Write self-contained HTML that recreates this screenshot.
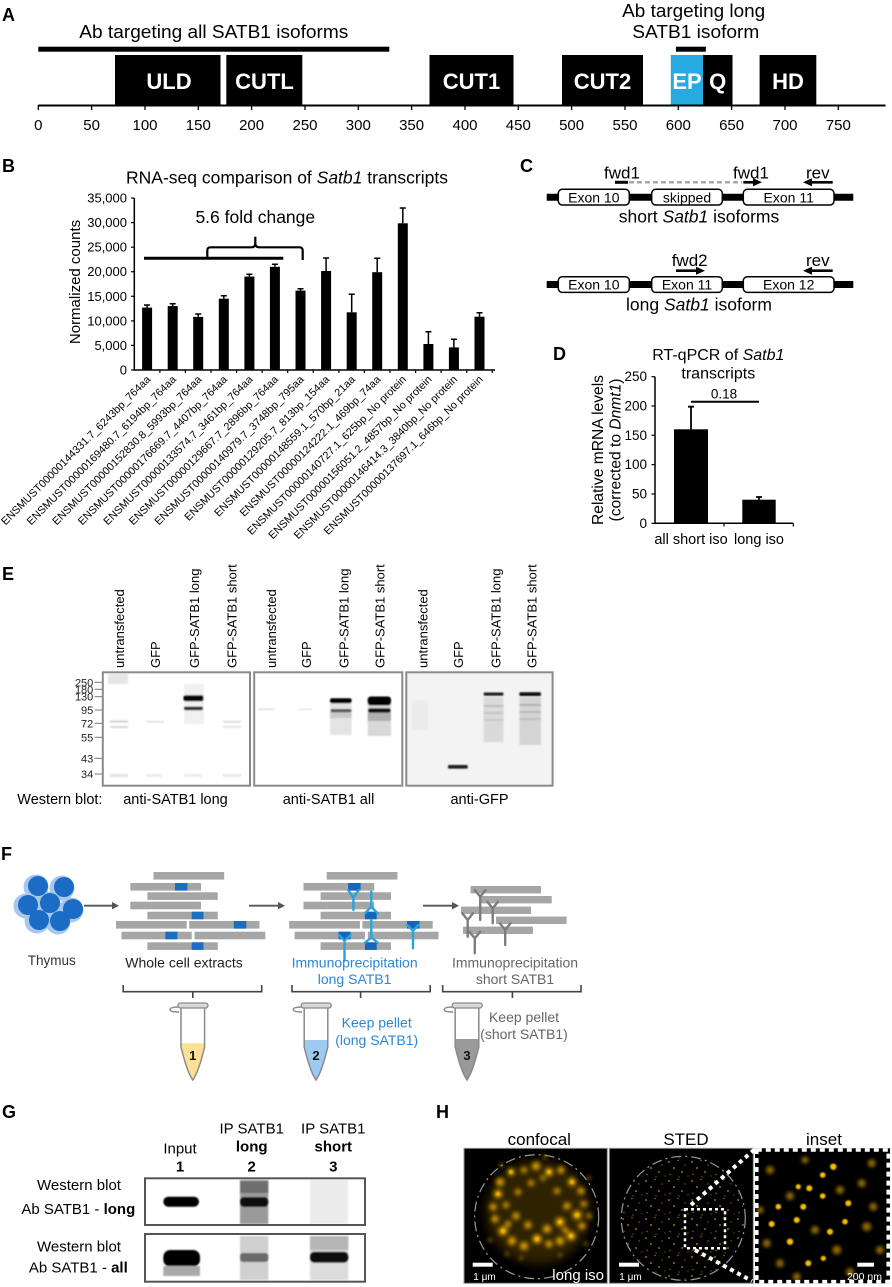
<!DOCTYPE html>
<html><head><meta charset="utf-8"><style>
html,body{margin:0;padding:0;background:#fff;}
svg{display:block;font-family:"Liberation Sans",Arial,sans-serif;}
</style></head><body>
<svg width="892" height="1287" viewBox="0 0 892 1287" xmlns="http://www.w3.org/2000/svg">
<defs>
<filter id="b1" x="-50%" y="-50%" width="200%" height="200%"><feGaussianBlur stdDeviation="0.9"/></filter>
<filter id="b2" x="-50%" y="-50%" width="200%" height="200%"><feGaussianBlur stdDeviation="1.8"/></filter>
<filter id="b3" x="-50%" y="-50%" width="200%" height="200%"><feGaussianBlur stdDeviation="2.4"/></filter>
<filter id="b4" x="-50%" y="-50%" width="200%" height="200%"><feGaussianBlur stdDeviation="5"/></filter>
<pattern id="sted" x="0" y="0" width="23" height="19" patternUnits="userSpaceOnUse">
<circle cx="2" cy="3" r="0.9" fill="#e8a800"/><circle cx="11" cy="1.5" r="0.7" fill="#c98f00"/>
<circle cx="7" cy="9" r="0.9" fill="#f0b800"/><circle cx="18" cy="6" r="0.7" fill="#a87800"/>
<circle cx="3" cy="15.5" r="0.7" fill="#b88400"/><circle cx="15" cy="13" r="0.9" fill="#e0a400"/>
<circle cx="21" cy="17" r="0.6" fill="#a87800"/><circle cx="12" cy="18" r="0.6" fill="#c08a00"/>
</pattern>
<clipPath id="cc1"><rect x="464" y="1148.3" width="143.3" height="135"/></clipPath>
<clipPath id="cc2"><circle cx="683.3" cy="1218.3" r="61"/></clipPath>
<clipPath id="cc3"><rect x="755" y="1148.3" width="135" height="135"/></clipPath>
<clipPath id="t1"><path d="M181,1008 L181,1047 Q187,1072 192.8,1080 Q198.6,1072 204.6,1047 L204.6,1008 Z"/></clipPath>
<clipPath id="t2"><path d="M304.2,1008 L304.2,1047 Q310.2,1072 316,1080 Q321.8,1072 327.8,1047 L327.8,1008 Z"/></clipPath>
<clipPath id="t3"><path d="M455.2,1008 L455.2,1047 Q461.2,1072 467,1080 Q472.8,1072 478.8,1047 L478.8,1008 Z"/></clipPath>
</defs>

<!-- ===== Panel A ===== -->
<text x="2" y="21" font-size="18" font-weight="bold">A</text>
<text x="693.7" y="17" font-size="18" text-anchor="middle" textLength="143" lengthAdjust="spacingAndGlyphs">Ab targeting long</text>
<text x="695.8" y="38" font-size="18" text-anchor="middle" textLength="127" lengthAdjust="spacingAndGlyphs">SATB1 isoform</text>
<text x="213.8" y="38" font-size="18" text-anchor="middle" textLength="269" lengthAdjust="spacingAndGlyphs">Ab targeting all SATB1 isoforms</text>
<rect x="38.3" y="46.7" width="351" height="5" fill="#000"/>
<rect x="675.9" y="46.7" width="30" height="5" fill="#000"/>
<rect x="115" y="55" width="105.5" height="50" fill="#000"/>
<rect x="226.3" y="55" width="76" height="50" fill="#000"/>
<rect x="429.5" y="55" width="84" height="50" fill="#000"/>
<rect x="562" y="55" width="81" height="50" fill="#000"/>
<rect x="670.8" y="55" width="32.2" height="50" fill="#27a9e1"/>
<rect x="703" y="55" width="29.5" height="50" fill="#000"/>
<rect x="759.6" y="55" width="56.7" height="50" fill="#000"/>
<g fill="#fff" font-size="22" font-weight="bold" text-anchor="middle">
<text x="169" y="89">ULD</text><text x="264.5" y="89">CUTL</text><text x="471.5" y="89">CUT1</text>
<text x="602.5" y="89">CUT2</text><text x="687" y="89">EP</text><text x="717.7" y="89">Q</text><text x="788" y="89">HD</text>
</g>
<line x1="38.3" y1="105.5" x2="885.5" y2="105.5" stroke="#000" stroke-width="2"/>
<g stroke="#000" stroke-width="1.3">
<line x1="38.3" y1="105" x2="38.3" y2="110"/><line x1="91.6" y1="105" x2="91.6" y2="110"/><line x1="145" y1="105" x2="145" y2="110"/><line x1="198.3" y1="105" x2="198.3" y2="110"/><line x1="251.6" y1="105" x2="251.6" y2="110"/><line x1="305" y1="105" x2="305" y2="110"/><line x1="358.3" y1="105" x2="358.3" y2="110"/><line x1="411.6" y1="105" x2="411.6" y2="110"/><line x1="465" y1="105" x2="465" y2="110"/><line x1="518.3" y1="105" x2="518.3" y2="110"/><line x1="571.6" y1="105" x2="571.6" y2="110"/><line x1="625" y1="105" x2="625" y2="110"/><line x1="678.3" y1="105" x2="678.3" y2="110"/><line x1="731.6" y1="105" x2="731.6" y2="110"/><line x1="785" y1="105" x2="785" y2="110"/><line x1="838.3" y1="105" x2="838.3" y2="110"/>
</g>
<g font-size="15" text-anchor="middle">
<text x="38.3" y="130">0</text><text x="91.6" y="130">50</text><text x="145" y="130">100</text><text x="198.3" y="130">150</text><text x="251.6" y="130">200</text><text x="305" y="130">250</text><text x="358.3" y="130">300</text><text x="411.6" y="130">350</text><text x="465" y="130">400</text><text x="518.3" y="130">450</text><text x="571.6" y="130">500</text><text x="625" y="130">550</text><text x="678.3" y="130">600</text><text x="731.6" y="130">650</text><text x="785" y="130">700</text><text x="838.3" y="130">750</text>
</g>

<!-- ===== Panel B ===== -->
<text x="2" y="172" font-size="18" font-weight="bold">B</text>
<text x="287" y="183.3" font-size="17.5" text-anchor="middle">RNA-seq comparison of <tspan font-style="italic">Satb1</tspan> transcripts</text>
<g font-size="13" text-anchor="end">
<text x="127" y="374.5">0</text><text x="127" y="349.9">5,000</text><text x="127" y="325.4">10,000</text><text x="127" y="300.8">15,000</text><text x="127" y="276.2">20,000</text><text x="127" y="251.7">25,000</text><text x="127" y="227.1">30,000</text><text x="127" y="202.5">35,000</text>
</g>
<g stroke="#000" stroke-width="1.2">
<line x1="131" y1="370" x2="134.3" y2="370"/><line x1="131" y1="345.4" x2="134.3" y2="345.4"/><line x1="131" y1="320.9" x2="134.3" y2="320.9"/><line x1="131" y1="296.3" x2="134.3" y2="296.3"/><line x1="131" y1="271.7" x2="134.3" y2="271.7"/><line x1="131" y1="247.2" x2="134.3" y2="247.2"/><line x1="131" y1="222.6" x2="134.3" y2="222.6"/><line x1="131" y1="198" x2="134.3" y2="198"/>
<line x1="159.9" y1="370" x2="159.9" y2="373"/><line x1="185.4" y1="370" x2="185.4" y2="373"/><line x1="211" y1="370" x2="211" y2="373"/><line x1="236.6" y1="370" x2="236.6" y2="373"/><line x1="262.1" y1="370" x2="262.1" y2="373"/><line x1="287.7" y1="370" x2="287.7" y2="373"/><line x1="313.3" y1="370" x2="313.3" y2="373"/><line x1="338.9" y1="370" x2="338.9" y2="373"/><line x1="364.4" y1="370" x2="364.4" y2="373"/><line x1="390" y1="370" x2="390" y2="373"/><line x1="415.6" y1="370" x2="415.6" y2="373"/><line x1="441.1" y1="370" x2="441.1" y2="373"/><line x1="466.7" y1="370" x2="466.7" y2="373"/><line x1="492.3" y1="370" x2="492.3" y2="373"/>
</g>
<line x1="134.3" y1="198" x2="134.3" y2="370.6" stroke="#000" stroke-width="1.5"/>
<line x1="133.5" y1="370" x2="495" y2="370" stroke="#000" stroke-width="1.5"/>
<text transform="translate(80,282) rotate(-90)" font-size="15" text-anchor="middle">Normalized counts</text>
<g fill="#000">
<rect x="142.1" y="307.6" width="10" height="62.4"/><rect x="167.7" y="306.1" width="10" height="63.9"/><rect x="193.2" y="316.9" width="10" height="53.1"/><rect x="218.8" y="298.7" width="10" height="71.3"/><rect x="244.4" y="276.6" width="10" height="93.4"/><rect x="269.9" y="266.8" width="10" height="103.2"/><rect x="295.5" y="290.6" width="10" height="79.4"/><rect x="321.1" y="271" width="10" height="99"/><rect x="346.7" y="312.3" width="10" height="57.7"/><rect x="372.2" y="272.2" width="10" height="97.8"/><rect x="397.8" y="223.3" width="10" height="146.7"/><rect x="423.4" y="344" width="10" height="26"/><rect x="448.9" y="347.4" width="10" height="22.6"/><rect x="474.5" y="316.7" width="10" height="53.3"/>
</g>
<g stroke="#000" stroke-width="1.5">
<path d="M147.1,307.6V305M144,305h6"/><path d="M172.7,306.1V303.7M169.7,303.7h6"/><path d="M198.2,316.9V314M195.2,314h6"/><path d="M223.8,298.7V295.7M220.8,295.7h6"/><path d="M249.4,276.6V274.3M246.4,274.3h6"/><path d="M274.9,266.8V264.3M271.9,264.3h6"/><path d="M300.5,290.6V288.7M297.5,288.7h6"/><path d="M326.1,271V258M323.1,258h6"/><path d="M351.7,312.3V294.3M348.7,294.3h6"/><path d="M377.2,272.2V258.3M374.2,258.3h6"/><path d="M402.8,223.3V208M399.8,208h6"/><path d="M428.4,344V331.7M425.4,331.7h6"/><path d="M453.9,347.4V339.3M450.9,339.3h6"/><path d="M479.5,316.7V312.7M476.5,312.7h6"/>
</g>
<line x1="144" y1="258.3" x2="283.3" y2="258.3" stroke="#000" stroke-width="3"/>
<path d="M207.3,258 L207.3,250.5 Q207.3,247.3 210.5,247.3 L251.5,247.3 Q255.3,247.3 255.3,243 L255.3,236.7 M255.3,243 Q255.3,247.3 259,247.3 L299.5,247.3 Q302.7,247.3 302.7,250.5 L302.7,260" fill="none" stroke="#000" stroke-width="2.2"/>
<text x="255.3" y="223" font-size="17.5" text-anchor="middle">5.6 fold change</text>
<g font-size="10.8" text-anchor="end">
<text transform="translate(151.1,380) rotate(-45)">ENSMUST00000144331.7_6243bp_764aa</text>
<text transform="translate(176.7,380) rotate(-45)">ENSMUST00000169480.7_6194bp_764aa</text>
<text transform="translate(202.2,380) rotate(-45)">ENSMUST00000152830.8_5993bp_764aa</text>
<text transform="translate(227.8,380) rotate(-45)">ENSMUST00000176669.7_4407bp_764aa</text>
<text transform="translate(253.4,380) rotate(-45)">ENSMUST00000133574.7_3461bp_764aa</text>
<text transform="translate(278.9,380) rotate(-45)">ENSMUST00000129667.7_2896bp_764aa</text>
<text transform="translate(304.5,380) rotate(-45)">ENSMUST00000140979.7_3748bp_795aa</text>
<text transform="translate(330.1,380) rotate(-45)">ENSMUST00000129205.7_813bp_154aa</text>
<text transform="translate(355.7,380) rotate(-45)">ENSMUST00000148559.1_570bp_21aa</text>
<text transform="translate(381.2,380) rotate(-45)">ENSMUST00000124222.1_469bp_74aa</text>
<text transform="translate(406.8,380) rotate(-45)">ENSMUST00000140727.1_625bp_No protein</text>
<text transform="translate(432.4,380) rotate(-45)">ENSMUST00000156051.2_4857bp_No protein</text>
<text transform="translate(457.9,380) rotate(-45)">ENSMUST00000146414.3_3840bp_No protein</text>
<text transform="translate(483.5,380) rotate(-45)">ENSMUST00000137697.1_646bp_No protein</text>
</g>

<!-- ===== Panel C ===== -->
<text x="520" y="172" font-size="18" font-weight="bold">C</text>
<line x1="546.7" y1="197.3" x2="853.3" y2="197.3" stroke="#000" stroke-width="7"/>
<line x1="546.7" y1="284.5" x2="853.3" y2="284.5" stroke="#000" stroke-width="7"/>
<g fill="#fff" stroke="#000" stroke-width="1.5">
<rect x="558.3" y="189.3" width="71" height="15.7" rx="4"/><rect x="651.7" y="189.3" width="70.6" height="15.7" rx="4"/><rect x="743.3" y="189.3" width="90.7" height="15.7" rx="4"/>
<rect x="558.3" y="276.7" width="71" height="15.7" rx="4"/><rect x="651.7" y="276.7" width="70.6" height="15.7" rx="4"/><rect x="743.3" y="276.7" width="90.7" height="15.7" rx="4"/>
</g>
<g font-size="14" text-anchor="middle">
<text x="593.8" y="202.3">Exon 10</text><text x="687" y="202.3">skipped</text><text x="788.7" y="202.3">Exon 11</text>
<text x="593.8" y="289.7">Exon 10</text><text x="687" y="289.7">Exon 11</text><text x="788.7" y="289.7">Exon 12</text>
</g>
<g font-size="17">
<text x="604" y="178.3">fwd1</text><text x="733" y="178.3">fwd1</text><text x="806" y="178.3">rev</text>
<text x="671.7" y="266">fwd2</text><text x="806" y="266">rev</text>
</g>
<line x1="615" y1="182.3" x2="628" y2="182.3" stroke="#000" stroke-width="3"/>
<line x1="629" y1="182.3" x2="742" y2="182.3" stroke="#a8a8a8" stroke-width="2.5" stroke-dasharray="5 3"/>
<line x1="743.3" y1="182.3" x2="755" y2="182.3" stroke="#000" stroke-width="2.6"/><polygon points="753,178.3 762,182.3 753,186.3" fill="#000"/>
<line x1="832.7" y1="182.3" x2="810" y2="182.3" stroke="#000" stroke-width="2.6"/><polygon points="812,178.3 803,182.3 812,186.3" fill="#000"/>
<line x1="676" y1="270.7" x2="698" y2="270.7" stroke="#000" stroke-width="2.6"/><polygon points="696,266.7 705,270.7 696,274.7" fill="#000"/>
<line x1="832.7" y1="270.7" x2="810" y2="270.7" stroke="#000" stroke-width="2.6"/><polygon points="812,266.7 803,270.7 812,274.7" fill="#000"/>
<text x="699" y="222.3" font-size="17.5" text-anchor="middle">short <tspan font-style="italic">Satb1</tspan> isoforms</text>
<text x="699" y="310.7" font-size="17.5" text-anchor="middle">long <tspan font-style="italic">Satb1</tspan> isoform</text>

<!-- ===== Panel D ===== -->
<text x="553" y="360" font-size="18" font-weight="bold">D</text>
<text x="718.3" y="360" font-size="16" text-anchor="middle">RT-qPCR of <tspan font-style="italic">Satb1</tspan></text>
<text x="718.3" y="378.5" font-size="16" text-anchor="middle">transcripts</text>
<g font-size="13.5" text-anchor="end">
<text x="647" y="527.8">0</text><text x="647" y="498.5">50</text><text x="647" y="469.1">100</text><text x="647" y="439.8">150</text><text x="647" y="410.5">200</text><text x="647" y="381.2">250</text>
</g>
<g stroke="#000" stroke-width="1.2">
<line x1="651.5" y1="523.3" x2="655" y2="523.3"/><line x1="651.5" y1="494" x2="655" y2="494"/><line x1="651.5" y1="464.6" x2="655" y2="464.6"/><line x1="651.5" y1="435.3" x2="655" y2="435.3"/><line x1="651.5" y1="406" x2="655" y2="406"/><line x1="651.5" y1="376.7" x2="655" y2="376.7"/>
<line x1="724" y1="523.3" x2="724" y2="526.5"/><line x1="793.3" y1="523.3" x2="793.3" y2="526.5"/>
</g>
<line x1="655" y1="376.7" x2="655" y2="524" stroke="#000" stroke-width="1.5"/>
<line x1="654.3" y1="523.3" x2="793.3" y2="523.3" stroke="#000" stroke-width="1.5"/>
<rect x="674" y="429.3" width="34" height="94" fill="#000"/>
<rect x="742.3" y="499.7" width="33.4" height="23.6" fill="#000"/>
<path d="M691,429.3V406.7M688,406.7h6M759,499.7V497M756,497h6" stroke="#000" stroke-width="1.8"/>
<line x1="691" y1="401.7" x2="759" y2="401.7" stroke="#000" stroke-width="2"/>
<text x="724" y="398.5" font-size="13.5" text-anchor="middle">0.18</text>
<text transform="translate(603,450) rotate(-90)" font-size="15.6" text-anchor="middle">Relative mRNA levels</text>
<text transform="translate(620.5,450) rotate(-90)" font-size="15.6" text-anchor="middle">(corrected to <tspan font-style="italic">Dnmt1</tspan>)</text>
<text x="691" y="544" font-size="14.5" text-anchor="middle">all short iso</text>
<text x="759" y="544" font-size="14.5" text-anchor="middle">long iso</text>

<!-- ===== Panel E ===== -->
<text x="2" y="580" font-size="18" font-weight="bold">E</text>
<g font-size="13">
<text transform="translate(124,668) rotate(-90)">untransfected</text>
<text transform="translate(160,668) rotate(-90)">GFP</text>
<text transform="translate(199,668) rotate(-90)">GFP-SATB1 long</text>
<text transform="translate(236.5,668) rotate(-90)">GFP-SATB1 short</text>
<text transform="translate(276,668) rotate(-90)">untransfected</text>
<text transform="translate(311,668) rotate(-90)">GFP</text>
<text transform="translate(348.3,668) rotate(-90)">GFP-SATB1 long</text>
<text transform="translate(384.7,668) rotate(-90)">GFP-SATB1 short</text>
<text transform="translate(427.5,668) rotate(-90)">untransfected</text>
<text transform="translate(463.2,668) rotate(-90)">GFP</text>
<text transform="translate(500.7,668) rotate(-90)">GFP-SATB1 long</text>
<text transform="translate(536.5,668) rotate(-90)">GFP-SATB1 short</text>
</g>
<g font-size="11" text-anchor="end" fill="#222">
<text x="93.3" y="686.3">250</text><text x="93.3" y="693.3">180</text><text x="93.3" y="700.7">130</text><text x="93.3" y="714">95</text><text x="93.3" y="727.3">72</text><text x="93.3" y="741.3">55</text><text x="93.3" y="762.3">43</text><text x="93.3" y="778">34</text>
</g>
<g stroke="#777" stroke-width="1">
<line x1="94.6" y1="682.3" x2="102" y2="682.3"/><line x1="94.6" y1="689.3" x2="102" y2="689.3"/><line x1="94.6" y1="696.7" x2="102" y2="696.7"/><line x1="94.6" y1="710" x2="102" y2="710"/><line x1="94.6" y1="723.3" x2="102" y2="723.3"/><line x1="94.6" y1="737.3" x2="102" y2="737.3"/><line x1="94.6" y1="758.3" x2="102" y2="758.3"/><line x1="94.6" y1="774" x2="102" y2="774"/>
</g>
<rect x="406.3" y="672.3" width="146.3" height="113.4" fill="#f3f3f3"/>
<g filter="url(#b1)">
<!-- blot 1 -->
<rect x="108" y="674" width="20" height="10" fill="#e6e6e6"/>
<rect x="110" y="720.5" width="18" height="2" fill="#cfcfcf"/><rect x="110" y="726" width="18" height="2" fill="#d6d6d6"/>
<rect x="146" y="721" width="18" height="1.6" fill="#dcdcdc"/>
<rect x="184" y="721" width="20" height="1.6" fill="#e0e0e0"/>
<rect x="223" y="721" width="18" height="1.6" fill="#d6d6d6"/><rect x="223" y="726" width="18" height="1.6" fill="#dddddd"/>
<rect x="110" y="774" width="18" height="3" fill="#e4e4e4"/><rect x="146" y="774" width="16" height="3" fill="#ececec"/><rect x="184" y="774" width="18" height="3" fill="#ececec"/><rect x="223" y="774" width="18" height="3" fill="#e8e8e8"/>
<rect x="184" y="684" width="20" height="40" fill="#f0f0f0"/>
<rect x="183.5" y="695.3" width="20" height="6" rx="2" fill="#000"/>
<rect x="184" y="706.5" width="19" height="3.8" rx="1.5" fill="#333"/>
<!-- blot 2 -->
<rect x="258" y="708.5" width="16" height="1.6" fill="#e0e0e0"/><rect x="298" y="708.5" width="14" height="1.6" fill="#e8e8e8"/>
<rect x="330" y="703" width="21.6" height="32" fill="#e4e4e4"/>
<rect x="330" y="712" width="21.6" height="6" fill="#c8c8c8"/>
<rect x="330" y="698.2" width="21.6" height="5" rx="2" fill="#000"/>
<rect x="330.5" y="709" width="21" height="3.2" rx="1.5" fill="#555"/>
<rect x="367.7" y="703" width="23.3" height="33" fill="#d8d8d8"/>
<rect x="367.7" y="713" width="23.3" height="8" fill="#b0b0b0"/>
<rect x="367.7" y="696.5" width="23.3" height="9" rx="3" fill="#000"/>
<rect x="368" y="708.2" width="22.7" height="4.6" rx="2" fill="#111"/>
<!-- blot 3 -->
<rect x="483.7" y="697" width="19.7" height="45" fill="#dadada"/>
<rect x="483.7" y="705" width="19.7" height="2" fill="#bbb"/><rect x="483.7" y="712" width="19.7" height="2" fill="#c2c2c2"/><rect x="483.7" y="719" width="19.7" height="2" fill="#c8c8c8"/>
<rect x="483.7" y="692.5" width="19.7" height="3.2" rx="1" fill="#1a1a1a"/>
<rect x="519.4" y="697" width="21.5" height="48" fill="#d4d4d4"/>
<rect x="519.4" y="704" width="21.5" height="2" fill="#b0b0b0"/><rect x="519.4" y="711" width="21.5" height="2" fill="#b8b8b8"/><rect x="519.4" y="718" width="21.5" height="2" fill="#c0c0c0"/>
<rect x="519.4" y="692.3" width="21.5" height="3.8" rx="1" fill="#0d0d0d"/>
<rect x="412" y="700" width="16" height="30" fill="#ebebeb"/>
<rect x="448" y="765" width="19.7" height="3.6" rx="1" fill="#1c1c1c"/>
</g>
<g fill="none" stroke="#8a8a8a" stroke-width="2">
<rect x="102.8" y="672.3" width="147.2" height="113.4"/>
<rect x="254.2" y="672.3" width="148.1" height="113.4"/>
<rect x="406.3" y="672.3" width="146.3" height="113.4"/>
</g>
<g font-size="14.5">
<text x="17.3" y="804">Western blot:</text>
<text x="175.5" y="804" text-anchor="middle">anti-SATB1 long</text>
<text x="328.5" y="804" text-anchor="middle">anti-SATB1 all</text>
<text x="479.5" y="804" text-anchor="middle">anti-GFP</text>
</g>

<!-- ===== Panel F ===== -->
<text x="1" y="860" font-size="18" font-weight="bold">F</text>
<g>
<circle cx="36" cy="887" r="12.5" fill="#a9c6ec"/><circle cx="62" cy="888" r="12.5" fill="#a9c6ec"/><circle cx="26" cy="906" r="12.5" fill="#a9c6ec"/><circle cx="48" cy="904" r="12.5" fill="#a9c6ec"/><circle cx="71" cy="910" r="12.5" fill="#a9c6ec"/><circle cx="37" cy="921" r="12.5" fill="#a9c6ec"/><circle cx="58" cy="922" r="12.5" fill="#a9c6ec"/>
<circle cx="38" cy="886" r="10" fill="#1a6cc4"/><circle cx="64" cy="887" r="10" fill="#1a6cc4"/><circle cx="28" cy="905" r="10" fill="#1a6cc4"/><circle cx="50" cy="903" r="10" fill="#1a6cc4"/><circle cx="73" cy="909" r="10" fill="#1a6cc4"/><circle cx="39" cy="920" r="10" fill="#1a6cc4"/><circle cx="60" cy="921" r="10" fill="#1a6cc4"/>
</g>
<g stroke="#555" stroke-width="1.8"><line x1="84" y1="905.7" x2="113" y2="905.7"/><line x1="249" y1="905.7" x2="279" y2="905.7"/><line x1="423" y1="905.7" x2="453" y2="905.7"/></g>
<g fill="#555"><polygon points="112,902 119,905.7 112,909.4"/><polygon points="278,902 285,905.7 278,909.4"/><polygon points="452,902 459,905.7 452,909.4"/></g>
<g fill="#a6a6a6">
<rect x="153.5" y="872" width="70.7" height="7.6"/><rect x="130.3" y="883" width="70.7" height="7.6"/><rect x="147.4" y="892.3" width="70.4" height="7.6"/><rect x="130.3" y="901.7" width="70.7" height="7.6"/><rect x="147.4" y="911.7" width="70.4" height="7.6"/><rect x="116" y="921" width="70.7" height="7.6"/><rect x="189.2" y="921" width="70.3" height="7.6"/><rect x="121.4" y="931.7" width="70.3" height="7.6"/><rect x="194.6" y="931.7" width="70.7" height="7.6"/><rect x="147.4" y="942.3" width="70.4" height="7.6"/>
</g>
<g fill="#1b6ec2">
<rect x="175" y="883" width="12.4" height="7.6"/><rect x="191.7" y="911.7" width="11.8" height="7.6"/><rect x="233.8" y="921" width="12.5" height="7.6"/><rect x="165.3" y="931.7" width="12.1" height="7.6"/><rect x="191.7" y="942.3" width="11.8" height="7.6"/>
</g>
<g fill="#a6a6a6">
<rect x="326.7" y="872" width="70.7" height="7.6"/><rect x="303.5" y="883" width="70.7" height="7.6"/><rect x="320.6" y="892.3" width="70.4" height="7.6"/><rect x="303.5" y="901.7" width="70.7" height="7.6"/><rect x="320.6" y="911.7" width="70.4" height="7.6"/><rect x="289.2" y="921" width="70.7" height="7.6"/><rect x="362.4" y="921" width="70.3" height="7.6"/><rect x="294.6" y="931.7" width="70.3" height="7.6"/><rect x="367.8" y="931.7" width="70.7" height="7.6"/><rect x="320.6" y="942.3" width="70.4" height="7.6"/>
</g>
<g fill="#1466b8">
<rect x="348.2" y="883" width="12.4" height="7.6"/><rect x="364.9" y="911.7" width="11.8" height="7.6"/><rect x="407" y="921" width="12.5" height="7.6"/><rect x="338.5" y="931.7" width="12.1" height="7.6"/><rect x="364.9" y="942.3" width="11.8" height="7.6"/>
</g>
<g stroke="#2aa4e0" stroke-width="2.4" fill="none" stroke-linecap="round">
<path d="M348,890 L353.4,897.3 L358.8,890 M353.4,897.3 L353.4,910"/>
<path d="M371.3,891.7 L371.3,906.7 M365,913.3 L371.3,906.7 L377.7,913.3"/>
<path d="M371.3,920 L371.3,937.5 M365,942.7 L371.3,937.5 L377.7,942.7"/>
<path d="M407,925 L413,930.7 L418.4,925 M413,930.7 L413,948.3"/>
<path d="M339,935 L344.5,940.7 L350.6,935 M344.5,940.7 L344.5,960"/>
</g>
<g fill="#a6a6a6">
<rect x="470.5" y="886" width="70.5" height="7.4"/><rect x="480" y="896" width="71.7" height="7.4"/><rect x="461" y="906.6" width="70" height="7.4"/><rect x="496" y="916.6" width="70.7" height="7.4"/><rect x="463" y="926.6" width="70" height="7.4"/>
</g>
<g stroke="#7d7d7d" stroke-width="2.4" fill="none" stroke-linecap="round">
<path d="M474.8,890 L480.2,896.7 L485.5,890 M480.2,896.7 L480.2,920"/>
<path d="M487.3,901.7 L492.7,908.3 L498,901.7 M492.7,908.3 L492.7,923.3"/>
<path d="M462.3,913.3 L467.7,920 L473,913.3 M467.7,920 L467.7,936.7"/>
<path d="M499.8,923.3 L505.2,930 L510.5,923.3 M505.2,930 L505.2,945"/>
<path d="M469.4,931.7 L474.8,938.3 L480.2,931.7 M474.8,938.3 L474.8,953.3"/>
</g>
<g font-size="14">
<text x="51.8" y="965" text-anchor="middle" fill="#333" font-size="13.5">Thymus</text>
<text x="184" y="967.3" text-anchor="middle" fill="#222">Whole cell extracts</text>
<text x="354.6" y="967.3" text-anchor="middle" fill="#2b87d1">Immunoprecipitation</text>
<text x="354.6" y="984" text-anchor="middle" fill="#2b87d1">long SATB1</text>
<text x="515" y="967.3" text-anchor="middle" fill="#666">Immunoprecipitation</text>
<text x="515" y="984" text-anchor="middle" fill="#666">short SATB1</text>
<text x="376.7" y="1027.5" text-anchor="middle" fill="#2b87d1">Keep pellet</text>
<text x="376.7" y="1045" text-anchor="middle" fill="#2b87d1">(long SATB1)</text>
<text x="524" y="1022" text-anchor="middle" fill="#666">Keep pellet</text>
<text x="524" y="1039" text-anchor="middle" fill="#666">(short SATB1)</text>
</g>
<g fill="none" stroke="#444" stroke-width="1.6">
<path d="M123.2,985 V991.7 H261.7 V985 M192.8,991.7 V998"/>
<path d="M292,985 V991.7 H430.2 V985 M360.6,991.7 V998"/>
<path d="M442.7,985 V991.7 H581 V985 M512.4,991.7 V998"/>
</g>
<g clip-path="url(#t1)"><rect x="175" y="1043.3" width="40" height="40" fill="#fbe095"/></g>
<g clip-path="url(#t2)"><rect x="300" y="1040" width="40" height="42" fill="#9ccaf0"/></g>
<g clip-path="url(#t3)"><rect x="450" y="1039" width="40" height="43" fill="#9a9a9a"/></g>
<g fill="none" stroke="#8a8a8a" stroke-width="1.5">
<path d="M181,1008 L181,1047 Q187,1072 192.8,1080 Q198.6,1072 204.6,1047 L204.6,1008"/>
<path d="M304.2,1008 L304.2,1047 Q310.2,1072 316,1080 Q321.8,1072 327.8,1047 L327.8,1008"/>
<path d="M455.2,1008 L455.2,1047 Q461.2,1072 467,1080 Q472.8,1072 478.8,1047 L478.8,1008"/>
<path d="M179,1007 Q170,1007 170,1009.5 Q170,1012 179,1012"/>
<path d="M302.2,1007 Q293.2,1007 293.2,1009.5 Q293.2,1012 302.2,1012"/>
<path d="M453.2,1007 Q444.2,1007 444.2,1009.5 Q444.2,1012 453.2,1012"/>
</g>
<g fill="#d8d8d8" stroke="#8a8a8a" stroke-width="1.3">
<rect x="178" y="1003" width="30" height="5" rx="2.5"/>
<rect x="301.2" y="1003" width="30" height="5" rx="2.5"/>
<rect x="452.2" y="1003" width="30" height="5" rx="2.5"/>
</g>
<g font-size="13" font-weight="bold" text-anchor="middle" fill="#111">
<text x="192.8" y="1060">1</text><text x="316" y="1060">2</text><text x="467" y="1060">3</text>
</g>

<!-- ===== Panel G ===== -->
<text x="2" y="1118" font-size="18" font-weight="bold">G</text>
<g font-size="15" text-anchor="middle">
<text x="180" y="1153.3">Input</text><text x="180" y="1171.7" font-weight="bold">1</text>
<text x="251.7" y="1133.3">IP SATB1</text><text x="251.7" y="1151.7" font-weight="bold">long</text><text x="251.7" y="1171.7" font-weight="bold">2</text>
<text x="333.3" y="1133.3">IP SATB1</text><text x="333.3" y="1151.7" font-weight="bold">short</text><text x="333.3" y="1171.7" font-weight="bold">3</text>
<text x="79" y="1190">Western blot</text>
<text x="78.3" y="1214">Ab SATB1 - <tspan font-weight="bold">long</tspan></text>
<text x="79" y="1251.7">Western blot</text>
<text x="78.3" y="1272.7">Ab SATB1 - <tspan font-weight="bold">all</tspan></text>
</g>
<g filter="url(#b1)">
<rect x="240" y="1180" width="28.3" height="44" fill="#9a9a9a"/>
<rect x="240" y="1181" width="28.3" height="12" fill="#6e6e6e"/>
<rect x="310" y="1180" width="38" height="44" fill="#ececec"/>
<rect x="163.3" y="1196.7" width="35.7" height="10" rx="5" fill="#000"/>
<rect x="240" y="1197" width="28.3" height="10" rx="4" fill="#111"/>
<rect x="240" y="1236" width="28.3" height="44" fill="#d0d0d0"/>
<rect x="310" y="1236" width="38.3" height="44" fill="#dcdcdc"/>
<rect x="310" y="1236" width="38.3" height="14" fill="#b5b5b5"/>
<rect x="163.3" y="1250" width="36.7" height="16.7" rx="7" fill="#000"/>
<rect x="163.3" y="1266" width="36.7" height="10" fill="#aaaaaa"/>
<rect x="240" y="1253" width="28.3" height="9" rx="3" fill="#6a6a6a"/>
<rect x="310" y="1251.7" width="38.3" height="11" rx="4" fill="#0a0a0a"/>
</g>
<g fill="none" stroke="#555" stroke-width="2">
<rect x="145" y="1178.3" width="220" height="46.7"/>
<rect x="145" y="1234" width="220" height="47.7"/>
</g>

<!-- ===== Panel H ===== -->
<text x="436" y="1118" font-size="18" font-weight="bold">H</text>
<g font-size="17" text-anchor="middle">
<text x="539.3" y="1145">confocal</text><text x="686" y="1145">STED</text><text x="824" y="1145">inset</text>
</g>
<rect x="464" y="1148.3" width="143.3" height="135" fill="#000" stroke="#999" stroke-width="1"/>
<rect x="609.3" y="1148.3" width="144" height="135" fill="#000" stroke="#999" stroke-width="1"/>
<rect x="755" y="1148.3" width="135" height="135" fill="#000"/>
<g clip-path="url(#cc1)">
<circle cx="538" cy="1212" r="52" fill="#2e2200" filter="url(#b4)"/>
<g fill="#e9a900" filter="url(#b3)">
<circle cx="500" cy="1182" r="4"/><circle cx="511" cy="1172" r="3.5"/><circle cx="524" cy="1170" r="3"/><circle cx="536" cy="1166" r="4"/><circle cx="549" cy="1172" r="4"/><circle cx="561" cy="1170" r="3.5"/><circle cx="572" cy="1182" r="4"/><circle cx="581" cy="1191" r="3.5"/><circle cx="584" cy="1204" r="3"/><circle cx="577" cy="1215" r="4.5"/><circle cx="582" cy="1226" r="3.5"/><circle cx="571" cy="1236" r="4.5"/><circle cx="560" cy="1241" r="4"/><circle cx="549" cy="1244" r="3.5"/><circle cx="537" cy="1239" r="4.5"/><circle cx="524" cy="1246" r="4"/><circle cx="512" cy="1241" r="4"/><circle cx="503" cy="1231" r="4.5"/><circle cx="495" cy="1219" r="3.5"/><circle cx="493" cy="1207" r="3.5"/><circle cx="498" cy="1194" r="4"/><circle cx="506" cy="1205" r="3"/><circle cx="516" cy="1216" r="3.5"/><circle cx="528" cy="1225" r="3.5"/><circle cx="547" cy="1229" r="4"/><circle cx="560" cy="1222" r="4.5"/><circle cx="567" cy="1206" r="3.5"/><circle cx="557" cy="1191" r="3"/><circle cx="531" cy="1183" r="3"/><circle cx="518" cy="1192" r="3"/><circle cx="565" cy="1230" r="3"/><circle cx="589" cy="1216" r="2.5"/><circle cx="543" cy="1178" r="2.5"/><circle cx="508" cy="1224" r="3"/>
</g>
<g fill="#f7c000" filter="url(#b1)" opacity="0.8">
<circle cx="511" cy="1172" r="2"/><circle cx="549" cy="1172" r="2"/><circle cx="577" cy="1215" r="2.2"/><circle cx="571" cy="1236" r="2.2"/><circle cx="537" cy="1239" r="2.2"/><circle cx="503" cy="1231" r="2.2"/><circle cx="560" cy="1222" r="2.2"/><circle cx="498" cy="1194" r="2"/><circle cx="572" cy="1182" r="2"/>
</g>
<g fill="#8a6400" filter="url(#b2)" opacity="0.7">
<circle cx="507" cy="1254" r="2.5"/><circle cx="521" cy="1258" r="2.5"/><circle cx="560" cy="1255" r="2.5"/><circle cx="586" cy="1244" r="2.5"/><circle cx="490" cy="1240" r="2.5"/><circle cx="545" cy="1157" r="2.5"/><circle cx="501" cy="1165" r="2.5"/><circle cx="589" cy="1178" r="2.5"/>
</g>
</g>
<circle cx="536.7" cy="1216.7" r="62" fill="none" stroke="#9a9a9a" stroke-width="1.2" stroke-dasharray="10 4 2 4"/>
<rect x="472.7" y="1262.7" width="20" height="4" fill="#fff"/>
<text x="473.3" y="1280" font-size="10" fill="#fff">1 μm</text>
<text x="604" y="1280" font-size="15" fill="#fff" text-anchor="end">long iso</text>
<g clip-path="url(#cc2)">
<rect x="615" y="1150" width="140" height="135" fill="url(#sted)" opacity="0.85"/>
</g>
<circle cx="683.3" cy="1218.3" r="62" fill="none" stroke="#9a9a9a" stroke-width="1.2" stroke-dasharray="10 4 2 4"/>
<rect x="685" y="1209.3" width="40" height="39" fill="none" stroke="#fff" stroke-width="2.5" stroke-dasharray="3 3"/>
<g stroke="#fff" stroke-width="4" stroke-dasharray="4 4">
<line x1="691" y1="1205" x2="755" y2="1149"/>
<line x1="695" y1="1250" x2="752" y2="1281"/>
</g>
<rect x="619" y="1262.7" width="20" height="4" fill="#fff"/>
<text x="619.3" y="1280" font-size="10" fill="#fff">1 μm</text>
<g clip-path="url(#cc3)">
<g fill="#c89200" filter="url(#b2)" opacity="0.7">
<circle cx="770" cy="1170" r="4"/><circle cx="871.7" cy="1163.3" r="4"/><circle cx="861.7" cy="1183.3" r="4"/><circle cx="873.3" cy="1206.7" r="4"/><circle cx="866.7" cy="1226.7" r="4.5"/><circle cx="880" cy="1250" r="4"/><circle cx="780" cy="1263.3" r="4"/><circle cx="796.7" cy="1276.7" r="4"/><circle cx="836.7" cy="1250" r="4.5"/><circle cx="766.7" cy="1243.3" r="4"/><circle cx="790" cy="1196" r="4"/><circle cx="840" cy="1190" r="4"/><circle cx="815" cy="1230" r="4"/><circle cx="760" cy="1210" r="3.5"/><circle cx="850" cy="1272" r="4"/><circle cx="805" cy="1160" r="3.5"/>
</g>
<g fill="#f5c000" filter="url(#b1)">
<circle cx="833.3" cy="1166.7" r="3.2"/><circle cx="822.7" cy="1175" r="2.8"/><circle cx="809.3" cy="1188.3" r="3"/><circle cx="822.7" cy="1196" r="2.8"/><circle cx="848.3" cy="1203.3" r="3"/><circle cx="798.3" cy="1186.7" r="2.6"/><circle cx="796.7" cy="1220" r="3"/><circle cx="771.7" cy="1224" r="3"/><circle cx="790" cy="1241.7" r="3.2"/><circle cx="830" cy="1231.7" r="3"/><circle cx="845" cy="1221.7" r="2.8"/><circle cx="778.3" cy="1206.7" r="2.8"/><circle cx="803.3" cy="1206.7" r="3"/><circle cx="808.3" cy="1263.3" r="3"/><circle cx="823.3" cy="1258.3" r="2.6"/>
</g>
</g>
<rect x="756.8" y="1150" width="131.4" height="131.6" fill="none" stroke="#fff" stroke-width="3.5" stroke-dasharray="5 4"/>
<rect x="857.3" y="1262.7" width="16.7" height="4" fill="#fff"/>
<text x="882" y="1280" font-size="10.5" fill="#fff" text-anchor="end">200 nm</text>
</svg>
</body></html>
